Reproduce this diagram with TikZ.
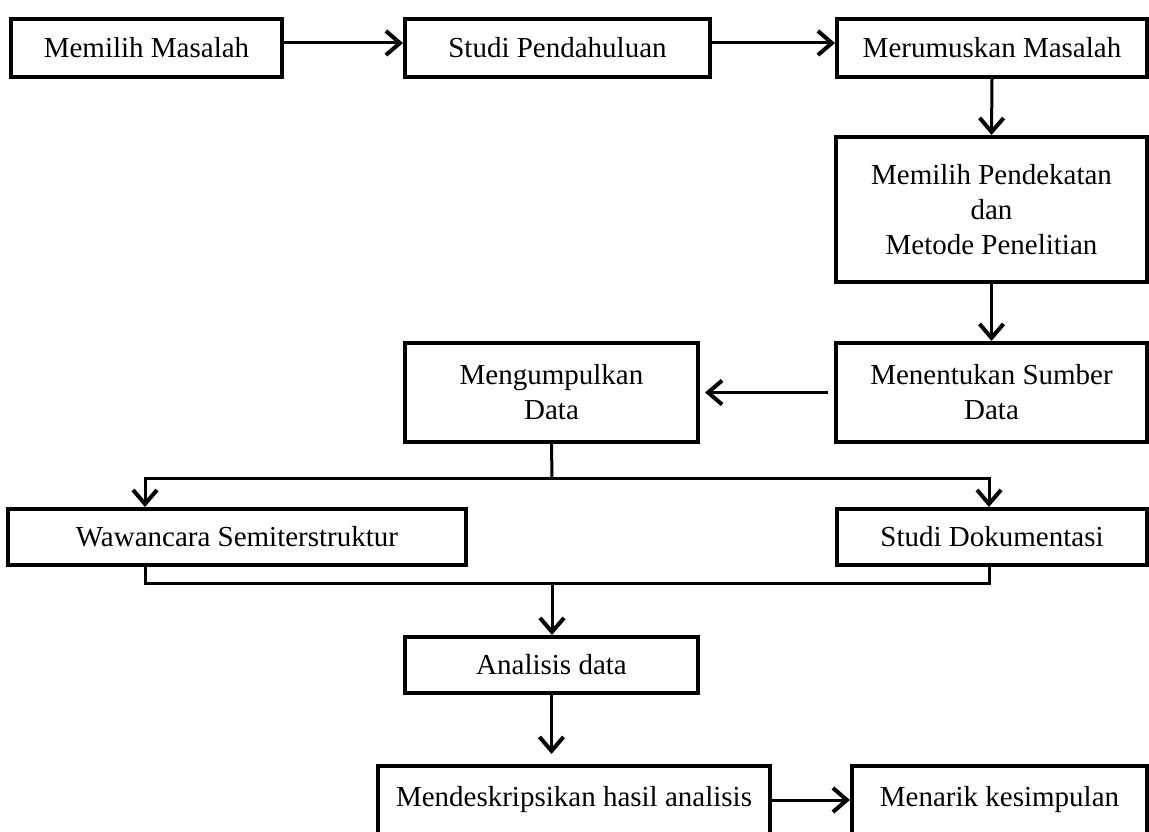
\documentclass[tikz,border=0pt]{standalone}
\usepackage{fontspec}
\setmainfont{Liberation Serif}
\usetikzlibrary{arrows.meta}
\begin{document}
\begin{tikzpicture}[x=1pt,y=-1pt,
    box/.style={draw, line width=4pt, inner sep=0pt, align=center, font=\fontsize{29}{35}\selectfont},
    link/.style={line width=3pt},
    arr/.style={link, -{Straight Barb[length=14pt,width=24pt,line width=4pt]}}]
    \useasboundingbox (0,0) rectangle (1149,832);
    \node[box, minimum width=271pt, minimum height=58pt] (mm) at (146.5,48) {Memilih Masalah};
    \node[box, minimum width=305pt, minimum height=58pt] (sp) at (557.5,48) {Studi Pendahuluan};
    \node[box, minimum width=310pt, minimum height=58pt] (rm) at (992,48) {Merumuskan Masalah};
    \node[box, minimum width=311pt, minimum height=145pt] (pd) at (991.5,209.5) {Memilih Pendekatan\\dan\\Metode Penelitian};
    \node[box, minimum width=311pt, minimum height=99pt] (sd) at (991.5,392.5) {Menentukan Sumber\\Data};
    \node[box, minimum width=293pt, minimum height=99pt] (kd) at (551.5,392.5) {Mengumpulkan\\Data};
    \node[box, minimum width=458pt, minimum height=56pt] (ww) at (237,537) {Wawancara Semiterstruktur};
    \node[box, minimum width=310pt, minimum height=56pt] (dok) at (992,537) {Studi Dokumentasi};
    \node[box, minimum width=293pt, minimum height=56pt] (ad) at (551.5,665) {Analisis data};
    \node[box, minimum width=392pt, minimum height=68pt] (hs) at (574,800) {Mendeskripsikan hasil analisis};
    \node[box, minimum width=295pt, minimum height=68pt] (ks) at (999.5,800) {Menarik kesimpulan};

    \draw[arr] ([yshift=5pt]mm.east) -- ([yshift=5pt]sp.west);
    \draw[arr] ([yshift=5pt]sp.east) -- ([yshift=5pt]rm.west);
    \draw[arr] (rm.south) -- (pd.north);
    \draw[arr] (pd.south) -- (sd.north);
    \draw[arr, shorten <=6pt, shorten >=5pt] (sd.west) -- (kd.east);

    \coordinate (split) at (552,478);
    \coordinate (merge) at (552,583);
    \draw[link] (kd.south) -- (split);
    \draw[arr] (split) -| ([xshift=-92pt]ww.north);
    \draw[arr] (split) -| ([xshift=-3pt]dok.north);
    \draw[link] ([xshift=-92pt]ww.south) |- (merge) -| ([xshift=-3pt]dok.south);
    \draw[arr] (merge) -- (merge |- ad.north);
    \draw[arr, shorten >=10pt] (ad.south) -- (ad.south |- hs.north);
    \draw[arr] (hs.east) -- (ks.west);
\end{tikzpicture}
\end{document}
